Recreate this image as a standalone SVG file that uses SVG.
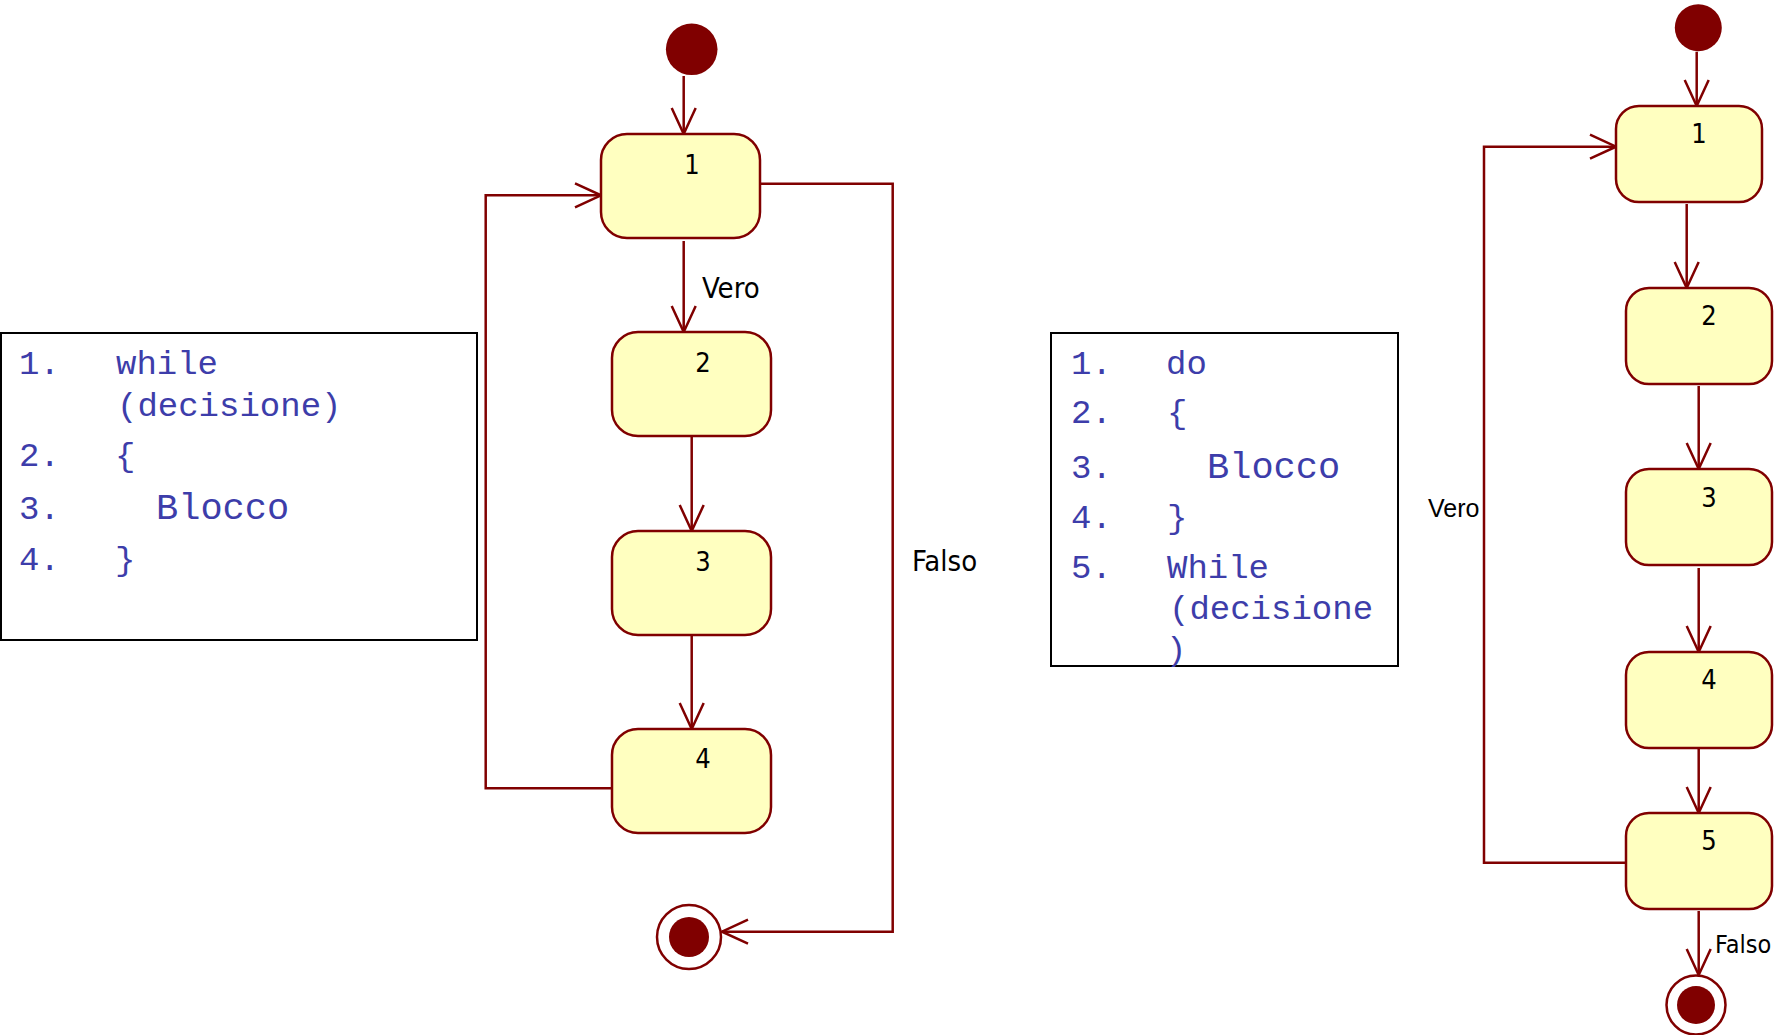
<svg xmlns="http://www.w3.org/2000/svg" width="1787" height="1035" viewBox="0 0 1787 1035">
<style>
.node{fill:#FFFFC0;stroke:#800000;stroke-width:2.5}
.lbl{font-family:"DejaVu Sans Condensed","DejaVu Sans",sans-serif;font-size:27px;fill:#000;text-anchor:middle}
.edge{fill:none;stroke:#800000;stroke-width:2.5}
.elbl{font-family:"DejaVu Sans Condensed","DejaVu Sans",sans-serif;font-size:29px;fill:#000}
.code{font-family:"Liberation Mono","Courier New",monospace;font-size:34px;fill:#3d3daa}
.big{font-size:37px}
.box{fill:#fff;stroke:#000;stroke-width:2}
.dot{fill:#800000}
.ring{fill:#fff;stroke:#800000;stroke-width:2.5}
</style>
<defs>
<marker id="arr" markerUnits="userSpaceOnUse" viewBox="0 0 30 28" markerWidth="30" markerHeight="28" refX="28" refY="14" orient="auto">
<path d="M2,2 L28,14 L2,26" fill="none" stroke="#800000" stroke-width="2.5"/>
</marker>
</defs>
<rect width="1787" height="1035" fill="#fff"/>

<g id="code-while">
<rect class="box" x="1" y="333" width="476" height="307"/>
<text class="code" x="19" y="374">1.</text>
<text class="code" x="116" y="374">while</text>
<text class="code" x="117" y="416">(decisione)</text>
<text class="code" x="19" y="466">2.</text>
<text class="code" x="115" y="466">{</text>
<text class="code" x="19" y="519">3.</text>
<text class="code big" x="156" y="519">Blocco</text>
<text class="code" x="19" y="570">4.</text>
<text class="code" x="115" y="570">}</text>
</g>

<g id="code-dowhile">
<rect class="box" x="1051" y="333" width="347" height="333"/>
<text class="code" x="1071" y="374">1.</text>
<text class="code" x="1166" y="374">do</text>
<text class="code" x="1071" y="423">2.</text>
<text class="code" x="1167" y="423">{</text>
<text class="code" x="1071" y="478">3.</text>
<text class="code big" x="1207" y="478">Blocco</text>
<text class="code" x="1071" y="528">4.</text>
<text class="code" x="1167" y="528">}</text>
<text class="code" x="1071" y="578">5.</text>
<text class="code" x="1167" y="578">While</text>
<text class="code" x="1169" y="619">(decisione</text>
<text class="code" x="1166" y="660">)</text>
</g>

<g id="connectors">
<path class="edge" marker-end="url(#arr)" d="M683.7,76 L683.7,134"/>
<path class="edge" marker-end="url(#arr)" d="M683.7,241 L683.7,332"/>
<path class="edge" marker-end="url(#arr)" d="M691.7,436 L691.7,531"/>
<path class="edge" marker-end="url(#arr)" d="M691.7,635 L691.7,729"/>
<path class="edge" marker-end="url(#arr)" d="M612,788.3 L485.7,788.3 L485.7,195.3 L601,195.3"/>
<path class="edge" marker-end="url(#arr)" d="M760,183.7 L892.7,183.7 L892.7,931.7 L722,931.7"/>
<text class="elbl" x="702" y="298">Vero</text>
<text class="elbl" x="912" y="571">Falso</text>

<path class="edge" marker-end="url(#arr)" d="M1696.7,51.7 L1696.7,106"/>
<path class="edge" marker-end="url(#arr)" d="M1686.7,204 L1686.7,288"/>
<path class="edge" marker-end="url(#arr)" d="M1698.7,386 L1698.7,469"/>
<path class="edge" marker-end="url(#arr)" d="M1698.7,568 L1698.7,652"/>
<path class="edge" marker-end="url(#arr)" d="M1698.7,749 L1698.7,813"/>
<path class="edge" marker-end="url(#arr)" d="M1626,862.7 L1484,862.7 L1484,146.7 L1616,146.7"/>
<path class="edge" marker-end="url(#arr)" d="M1698.7,911 L1698.7,975"/>
<text x="1428" y="517" style="font-family:'Liberation Sans',Arial,sans-serif;font-size:25px;fill:#000">Vero</text>
<text class="elbl" x="1715" y="953" style="font-size:25px">Falso</text>
</g>

<g id="L-start"><circle class="dot" cx="691.7" cy="49.3" r="25.8"/></g>
<g id="L-1"><rect class="node" x="601" y="134" width="159" height="104" rx="26"/><text class="lbl" x="692" y="174">1</text></g>
<g id="L-2"><rect class="node" x="612" y="332" width="159" height="104" rx="26"/><text class="lbl" x="703" y="372">2</text></g>
<g id="L-3"><rect class="node" x="612" y="531" width="159" height="104" rx="26"/><text class="lbl" x="703" y="571">3</text></g>
<g id="L-4"><rect class="node" x="612" y="729" width="159" height="104" rx="26"/><text class="lbl" x="703" y="768">4</text></g>
<g id="L-end"><circle class="ring" cx="689" cy="937" r="32"/><circle class="dot" cx="689" cy="937" r="20"/></g>

<g id="R-start"><circle class="dot" cx="1698.3" cy="27.7" r="23.5"/></g>
<g id="R-1"><rect class="node" x="1616" y="106" width="146" height="96" rx="23"/><text class="lbl" x="1699" y="143">1</text></g>
<g id="R-2"><rect class="node" x="1626" y="288" width="146" height="96" rx="23"/><text class="lbl" x="1709" y="325">2</text></g>
<g id="R-3"><rect class="node" x="1626" y="469" width="146" height="96" rx="23"/><text class="lbl" x="1709" y="507">3</text></g>
<g id="R-4"><rect class="node" x="1626" y="652" width="146" height="96" rx="23"/><text class="lbl" x="1709" y="689">4</text></g>
<g id="R-5"><rect class="node" x="1626" y="813" width="146" height="96" rx="23"/><text class="lbl" x="1709" y="850">5</text></g>
<g id="R-end"><circle class="ring" cx="1696" cy="1005" r="29.5"/><circle class="dot" cx="1696" cy="1005" r="19"/></g>
</svg>
